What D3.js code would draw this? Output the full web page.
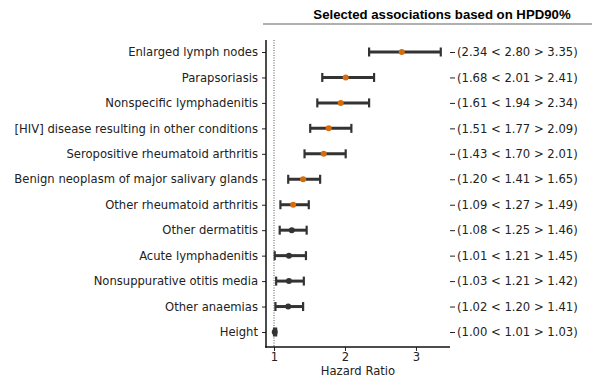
<!DOCTYPE html>
<html><head><meta charset="utf-8">
<script src="https://cdn.jsdelivr.net/npm/d3@7"></script>
<style>body{margin:0;background:#fff}</style>
</head><body>
<svg id="c" width="592" height="383"></svg>
<script>
const categories = ["Enlarged lymph nodes","Parapsoriasis","Nonspecific lymphadenitis","[HIV] disease resulting in other conditions","Seropositive rheumatoid arthritis","Benign neoplasm of major salivary glands","Other rheumatoid arthritis","Other dermatitis","Acute lymphadenitis","Nonsuppurative otitis media","Other anaemias","Height"];
const lower = [2.34,1.68,1.61,1.51,1.43,1.20,1.09,1.08,1.01,1.03,1.02,1.00];
const median = [2.80,2.01,1.94,1.77,1.70,1.41,1.27,1.25,1.21,1.21,1.20,1.01];
const upper = [3.35,2.41,2.34,2.09,2.01,1.65,1.49,1.46,1.45,1.42,1.41,1.03];
const highlighted = [true,true,true,true,true,true,true,false,false,false,false,false];
const xTicks = [1,2,3];
const title = "Selected associations based on HPD90%";
const xLabel = "Hazard Ratio";

const FS = 11.6;
const svg = d3.select("#c");
const x = d3.scaleLinear().domain([0.887,3.48]).range([266,450]);
const y = d3.scalePoint().domain(categories).range([52,332]);
const yTop = 40, yBot = 347;

// title and line
svg.append("line").attr("x1",263).attr("x2",592).attr("y1",24).attr("y2",24)
  .attr("stroke","#b0b0b0").attr("stroke-width",2);
svg.append("text").attr("x",442).attr("y",19).attr("text-anchor","middle")
  .attr("font-family","Liberation Sans, Arial, sans-serif").attr("font-weight","bold")
  .attr("font-size",13.2).attr("fill","#000").text(title);

// dotted ref line
svg.append("line").attr("x1",x(1)).attr("x2",x(1)).attr("y1",yTop).attr("y2",yBot)
  .attr("stroke","#555").attr("stroke-width",1).attr("stroke-dasharray","1,1.5");

// left axis
const gL = svg.append("g").attr("transform","translate(266,0)")
  .call(d3.axisLeft(y).tickSize(4).tickPadding(4));
gL.select(".domain").remove();
gL.selectAll("text").attr("font-family","DejaVu Sans, sans-serif").attr("font-size",FS).attr("fill","#222");
gL.selectAll(".tick line").attr("stroke","#222");
svg.append("line").attr("x1",266).attr("x2",266).attr("y1",yTop).attr("y2",yBot+0.75)
  .attr("stroke","#111").attr("stroke-width",1.5);

// right axis labels
const rightLabels = categories.map((c,i)=>`(${lower[i].toFixed(2)} < ${median[i].toFixed(2)} > ${upper[i].toFixed(2)})`);
const yR = d3.scalePoint().domain(d3.range(categories.length)).range([52,332]);
const gR = svg.append("g").attr("transform","translate(450,0)")
  .call(d3.axisRight(yR).tickSize(5).tickPadding(2).tickFormat(i=>rightLabels[i]));
gR.select(".domain").remove();
gR.selectAll("text").attr("font-family","DejaVu Sans, sans-serif").attr("font-size",FS).attr("fill","#222");
gR.selectAll(".tick line").attr("stroke","#222");

// bottom axis
const gB = svg.append("g").attr("transform",`translate(0,${yBot})`)
  .call(d3.axisBottom(x).tickValues(xTicks).tickFormat(d3.format("d")).tickSize(4).tickPadding(2));
gB.select(".domain").remove();
gB.selectAll("text").attr("font-family","DejaVu Sans, sans-serif").attr("font-size",FS).attr("fill","#222");
gB.selectAll(".tick line").attr("stroke","#222");
svg.append("line").attr("x1",265.25).attr("x2",450).attr("y1",yBot).attr("y2",yBot)
  .attr("stroke","#111").attr("stroke-width",1.5);
svg.append("text").attr("x",(266+450)/2).attr("y",375).attr("text-anchor","middle")
  .attr("font-family","DejaVu Sans, sans-serif").attr("font-size",FS).attr("fill","#222").text(xLabel);

// error bars
const g = svg.append("g");
categories.forEach((c,i)=>{
  const yy = y(c);
  g.append("line").attr("x1",x(lower[i])).attr("x2",x(upper[i])).attr("y1",yy).attr("y2",yy)
    .attr("stroke","#333").attr("stroke-width",3);
  [lower[i],upper[i]].forEach(v=>{
    g.append("line").attr("x1",x(v)).attr("x2",x(v)).attr("y1",yy-4.5).attr("y2",yy+4.5)
      .attr("stroke","#333").attr("stroke-width",2.2);
  });
  g.append("circle").attr("cx",x(median[i])).attr("cy",yy).attr("r",3)
    .attr("fill",highlighted[i]?"#d96c0a":"#333");
});
</script>
</body></html>
